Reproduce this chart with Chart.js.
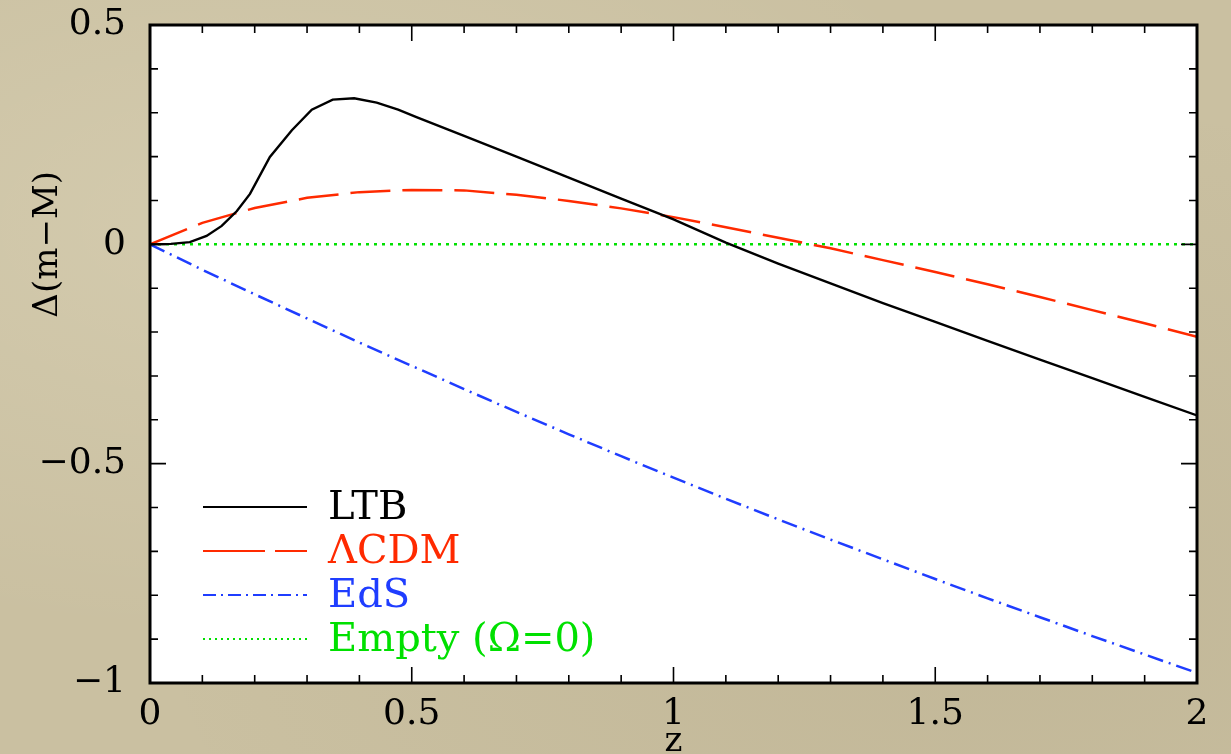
<!DOCTYPE html>
<html>
<head>
<meta charset="utf-8">
<script src="https://cdn.jsdelivr.net/npm/chart.js@4/dist/chart.umd.min.js"></script>
<style>
  html, body { margin: 0; padding: 0; }
  body {
    width: 1231px; height: 754px; overflow: hidden;
    background-color: #cac0a1;
    background-image:
      radial-gradient(ellipse at 20% 30%, rgba(255,250,230,0.18), rgba(0,0,0,0) 55%),
      radial-gradient(ellipse at 80% 80%, rgba(120,105,70,0.10), rgba(0,0,0,0) 60%);
  }
  canvas { display: block; }
</style>
</head>
<body>
<canvas id="grafico" width="1231" height="754"></canvas>
<script>
// LTB: puntos (paso irregular)
const zLTB = [0, 0.04, 0.076, 0.108, 0.137, 0.166, 0.191, 0.229, 0.271, 0.309, 0.349, 0.39, 0.433, 0.474, 0.509,
  0.6, 0.7, 0.8, 0.9, 1.0, 1.1, 1.2, 1.3, 1.4, 1.5, 1.6, 1.7, 1.8, 1.9, 2.0];
const ltb = [0, 0.001, 0.005, 0.019, 0.042, 0.076, 0.115, 0.199, 0.26, 0.307, 0.33, 0.333, 0.323, 0.307, 0.29,
  0.247, 0.2, 0.152, 0.104, 0.057, 0.004, -0.044, -0.089, -0.134, -0.177, -0.22, -0.263, -0.305, -0.348, -0.39];

// ΛCDM, EdS y vacío en pasos de 0.1
const zGrid = [0, 0.1, 0.2, 0.3, 0.4, 0.5, 0.6, 0.7, 0.8, 0.9, 1.0, 1.1, 1.2, 1.3, 1.4, 1.5, 1.6, 1.7, 1.8, 1.9, 2.0];
const lcdm = [0, 0.049, 0.083, 0.106, 0.119, 0.124, 0.123, 0.113, 0.099, 0.082, 0.062, 0.039, 0.015, -0.009,
  -0.036, -0.063, -0.091, -0.12, -0.15, -0.18, -0.211];
const eds = [0, -0.058, -0.114, -0.169, -0.224, -0.277, -0.33, -0.382, -0.433, -0.483, -0.532, -0.58, -0.627,
  -0.673, -0.718, -0.763, -0.807, -0.85, -0.893, -0.935, -0.977];
const zEmpty = [0, 2];
const empty = [0, 0];

const nombres = ["LTB", "ΛCDM", "EdS", "Empty (Ω=0)"];
const colores = ["#000000", "#ff2a00", "#1f3dff", "#00e000"];
const xTicks = [0, 0.5, 1, 1.5, 2];
const yTicks = [-1, -0.5, 0, 0.5];
const tituloY = "Δ(m−M)";
const tituloX = "z";

const fuente = "'DejaVu Serif', 'Liberation Serif', serif";

const puntos = (xs, ys) => xs.map((x, i) => ({ x: x, y: ys[i] }));

const estilos = [
  { width: 2.4, dash: [], legendDash: [] },
  { width: 2.5, dash: [40, 12], legendDash: [62, 10] },
  { width: 2.5, dash: [16, 6, 2, 6], legendDash: [13, 5, 2, 5] },
  { width: 2.5, dash: [3, 5], legendDash: [2, 4] },
];

const datasets = [
  puntos(zLTB, ltb),
  puntos(zGrid, lcdm),
  puntos(zGrid, eds),
  puntos(zEmpty, empty),
].map((data, i) => ({
  label: nombres[i],
  data,
  borderColor: colores[i],
  borderWidth: estilos[i].width,
  borderDash: estilos[i].dash,
  pointRadius: 0,
  tension: 0,
  fill: false,
}));

// fondo blanco, marco, ticks hacia adentro, leyenda y título Y
const marco = {
  id: "marco",
  beforeDraw(chart) {
    const { ctx, chartArea: a } = chart;
    ctx.save();
    ctx.fillStyle = "#ffffff";
    ctx.fillRect(a.left, a.top, a.right - a.left, a.bottom - a.top);
    ctx.restore();
  },
  afterDraw(chart) {
    const { ctx, chartArea: a, scales } = chart;
    const x = scales.x, y = scales.y;
    ctx.save();
    ctx.strokeStyle = "#000";
    ctx.lineWidth = 1.6;
    for (let i = 0; i <= 20; i++) {
      const v = i / 10;
      const px = x.getPixelForValue(v);
      const largo = i % 5 === 0 ? 16 : 8;
      ctx.beginPath();
      ctx.moveTo(px, a.bottom); ctx.lineTo(px, a.bottom - largo);
      ctx.moveTo(px, a.top); ctx.lineTo(px, a.top + largo);
      ctx.stroke();
    }
    for (let i = 0; i <= 15; i++) {
      const v = -1 + i / 10;
      const py = y.getPixelForValue(v);
      const largo = i % 5 === 0 ? 16 : 8;
      ctx.beginPath();
      ctx.moveTo(a.left, py); ctx.lineTo(a.left + largo, py);
      ctx.moveTo(a.right, py); ctx.lineTo(a.right - largo, py);
      ctx.stroke();
    }
    ctx.lineWidth = 3;
    ctx.strokeRect(a.left, a.top, a.right - a.left, a.bottom - a.top);

    // leyenda
    const x0 = a.left + 53;
    const x1 = a.left + 157;
    const yBase = a.bottom - 176;
    ctx.font = "40px " + fuente;
    ctx.textBaseline = "middle";
    ctx.textAlign = "left";
    chart.data.datasets.forEach((ds, i) => {
      const yy = yBase + i * 44;
      ctx.strokeStyle = ds.borderColor;
      ctx.lineWidth = 2;
      ctx.setLineDash(estilos[i].legendDash);
      ctx.beginPath();
      ctx.moveTo(x0, yy); ctx.lineTo(x1, yy);
      ctx.stroke();
      ctx.setLineDash([]);
      ctx.fillStyle = ds.borderColor;
      ctx.fillText(ds.label, a.left + 178, yy + 2);
    });

    // título eje Y
    ctx.translate(48, y.getPixelForValue(0));
    ctx.rotate(-Math.PI / 2);
    ctx.textAlign = "center";
    ctx.fillStyle = "#000";
    ctx.font = "34px " + fuente;
    ctx.fillText(tituloY, 0, 0);
    ctx.restore();
  },
};

const signo = (v) => String(v).replace("-", "−");

new Chart(document.getElementById("grafico"), {
  type: "line",
  data: { datasets },
  plugins: [marco],
  options: {
    responsive: false,
    devicePixelRatio: 1,
    animation: false,
    layout: { padding: { top: 25, right: 34, left: 0, bottom: 0 } },
    plugins: { legend: { display: false }, tooltip: { enabled: false } },
    scales: {
      x: {
        type: "linear",
        min: 0,
        max: 2,
        afterFit: (s) => { s.height = 71; s.paddingLeft = 0; s.paddingRight = 0; },
        afterBuildTicks: (s) => { s.ticks = xTicks.map((v) => ({ value: v })); },
        grid: { display: false, drawTicks: false },
        border: { display: false },
        ticks: {
          padding: 10,
          color: "#000",
          font: { family: fuente, size: 36 },
          maxRotation: 0,
          callback: (v) => signo(v),
        },
        title: {
          display: true,
          text: tituloX,
          color: "#000",
          font: { family: fuente, size: 34, lineHeight: 1 },
          padding: { top: 0, bottom: -5 },
        },
      },
      y: {
        min: -1,
        max: 0.5,
        afterFit: (s) => { s.width = 150; s.paddingTop = 0; s.paddingBottom = 0; },
        afterBuildTicks: (s) => { s.ticks = yTicks.map((v) => ({ value: v })); },
        grid: { display: false, drawTicks: false },
        border: { display: false },
        ticks: {
          padding: 24,
          color: "#000",
          font: { family: fuente, size: 36 },
          callback: (v) => signo(v),
        },
      },
    },
  },
});
</script>
</body>
</html>
